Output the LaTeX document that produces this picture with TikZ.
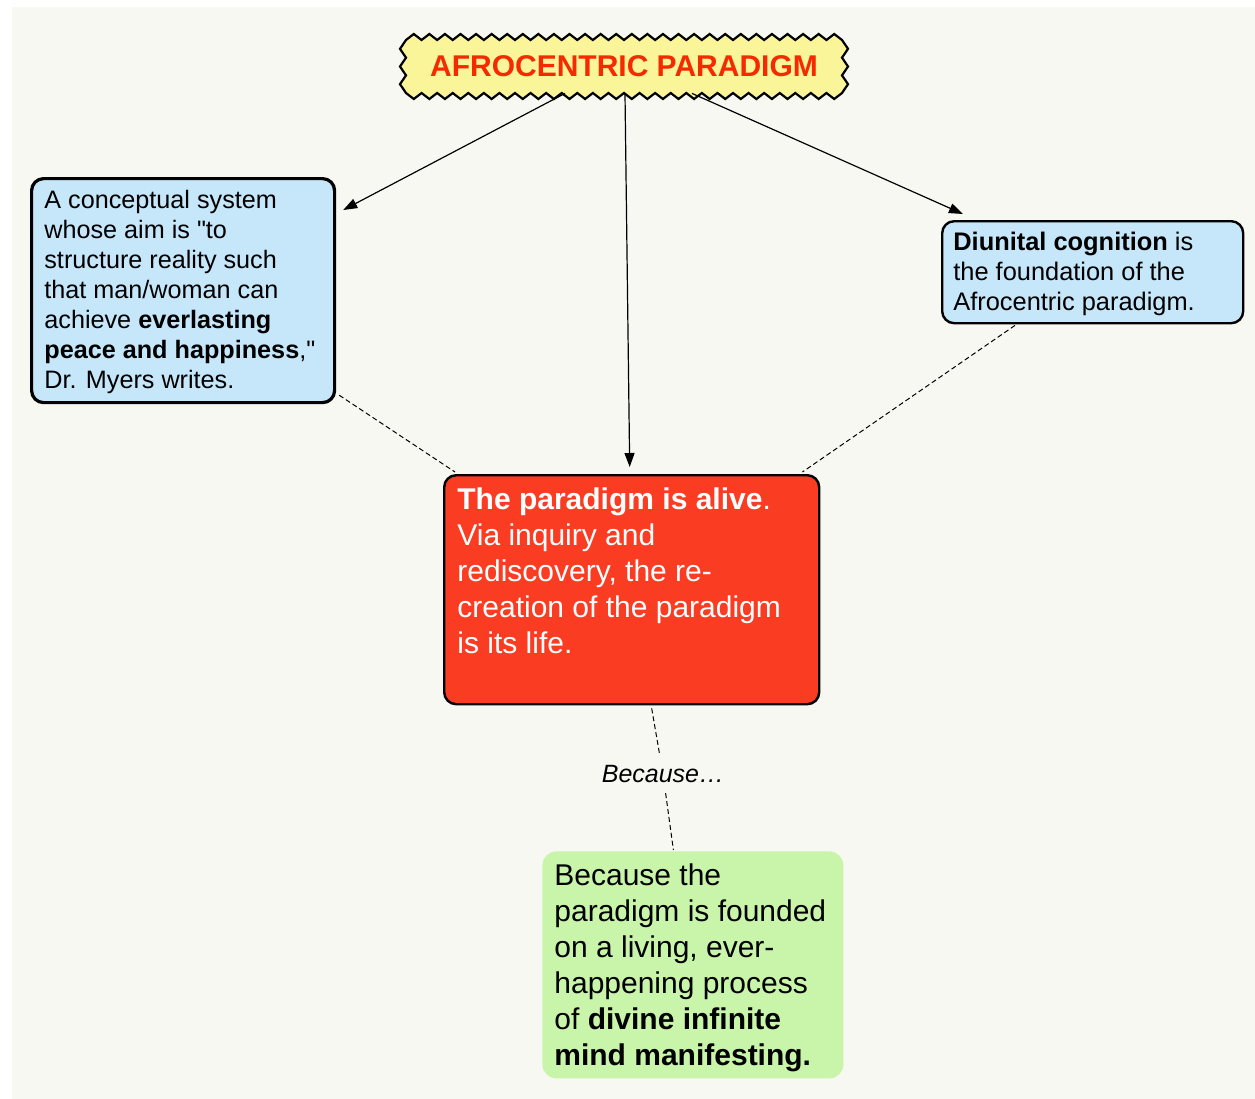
\documentclass[tikz,border=0pt]{standalone}
\usepackage{fontspec}
\setmainfont{Liberation Sans}[Ligatures=TeXOff]
\usetikzlibrary{calc,arrows.meta}
\definecolor{bgc}{RGB}{248,248,243}
\definecolor{blueF}{RGB}{198,230,250}
\definecolor{redF}{RGB}{249,60,34}
\definecolor{greenF}{RGB}{200,245,170}
\definecolor{yellowF}{RGB}{251,245,154}
\definecolor{titleC}{RGB}{245,42,0}
\begin{document}
\begin{tikzpicture}[x=0.5pt,y=-0.5pt,
  boxnode/.style={anchor=north west, rounded corners=6pt, inner sep=0pt},
  txt/.style={anchor=north west, inner sep=0pt, align=left},
  conn/.style={line width=0.6pt, -{Triangle[length=7pt,width=5pt]}},
  dashconn/.style={line width=0.5pt, dash pattern=on 2.5pt off 1.5pt}
]
\useasboundingbox (0,0) rectangle (1255,1099);
\fill[bgc] (12,7) rectangle (1255,1099);

% title zigzag frame
\filldraw[fill=yellowF, draw=black, line width=1.1pt, line join=miter]
  (406,40)
  foreach \i in {1,...,28} { -- ++(7.786,-6) -- ++(7.786,6) }
  foreach \i in {1,...,3} { -- ++(6,8.833) -- ++(-6,8.833) }
  foreach \i in {1,...,28} { -- ++(-7.786,6) -- ++(-7.786,-6) }
  foreach \i in {1,...,3} { -- ++(-6,-8.833) -- ++(6,-8.833) }
  -- cycle;
\node[minimum width=218pt, minimum height=26.5pt, inner sep=0pt,
  text=titleC, font=\fontsize{15}{17}\selectfont\bfseries] (title) at (624,66.5) {AFROCENTRIC PARADIGM};

% boxes
\node[boxnode, draw, fill=blueF, line width=1.6pt, minimum width=151.5pt, minimum height=112pt] (lb) at (30,177) {};
\node[boxnode, draw, fill=blueF, line width=1.2pt, minimum width=150.5pt, minimum height=51pt] (rb) at (941,220) {};
\node[boxnode, draw, fill=redF, line width=1.2pt, minimum width=187.5pt, minimum height=114.5pt] (red) at (443,474) {};
\node[boxnode, fill=greenF, rounded corners=7pt, minimum width=150.5pt, minimum height=113.5pt] (gb) at (542,851) {};

% texts
\node[txt, font=\fontsize{12.6}{15}\selectfont] (lbt) at (44,190) {A conceptual system\\whose aim is "to\\structure reality such\\that man/woman can\\achieve \textbf{everlasting}\\\textbf{peace and happiness},"\\Dr. Myers writes.};
\node[txt, font=\fontsize{12.7}{15}\selectfont] (rbt) at (953,231.5) {\textbf{Diunital cognition} is\\the foundation of the\\Afrocentric paradigm.};
\node[txt, text=white, font=\fontsize{15}{18}\selectfont] (redt) at (457,487) {\textbf{The paradigm is alive}.\\Via inquiry and\\rediscovery, the re-\\creation of the paradigm\\is its life.};
\node[txt, font=\fontsize{15}{18}\selectfont] (gbt) at (554,863) {Because the\\paradigm is founded\\on a living, ever-\\happening process\\of \textbf{divine infinite}\\\textbf{mind manifesting.}};

\node[inner sep=5pt, font=\fontsize{12.5}{15}\selectfont\itshape] (lbl) at (663,774) {Because…};

% connectors
\draw[conn] ($(title.south)+(-59,0)$) -- ($(lb.north east)+(7,33)$);
\draw[conn] ($(title.south)+(1,0)$) -- ($(red.north)+(-2,-7)$);
\draw[conn] ($(title.south)+(68,0)$) -- ($(rb.north west)+(22,-6)$);
\draw[dashconn] ($(lb.south east)+(3,-9)$) -- ($(red.north west)+(12,-2)$);
\draw[dashconn] ($(rb.south west)+(74,1)$) -- ($(red.north east)+(-18,-2)$);
\draw[dashconn] ($(red.south)+(20,3)$) -- (lbl);
\draw[dashconn] (lbl) -- ($(gb.north)+(-19.5,-1)$);
\end{tikzpicture}
\end{document}
